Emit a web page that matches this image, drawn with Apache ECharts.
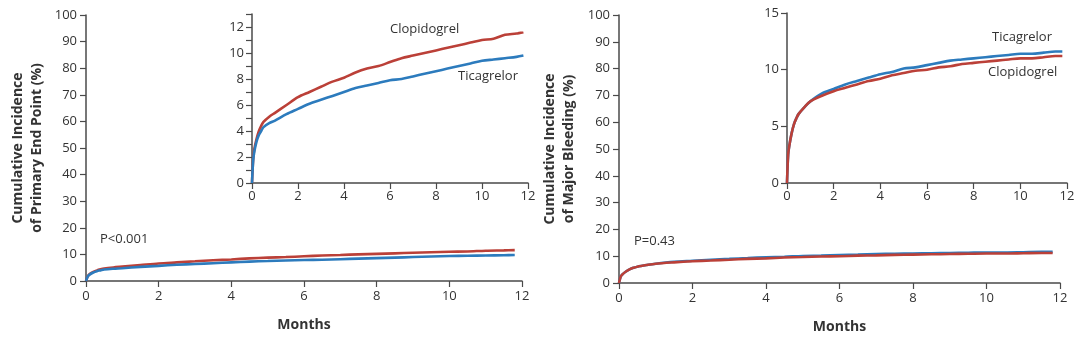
<!DOCTYPE html>
<html>
<head>
<meta charset="utf-8">
<script src="https://cdn.jsdelivr.net/npm/echarts@6/dist/echarts.min.js"></script>
<style>
html,body{margin:0;padding:0;background:#fff;}
#c{width:1080px;height:341px;}
</style>
</head>
<body>
<div id="c"></div>
<script>
// ---- data ----
const months = [0, 0.05, 0.1, 0.2, 0.3, 0.4, 0.5, 0.75, 1, 1.5, 2, 2.5, 3, 3.5, 4, 4.5, 5, 5.5, 6, 6.5, 7, 7.5, 8, 8.5, 9, 9.5, 10, 10.5, 11, 11.5, 11.8];
const primaryClopidogrel = [0, 1.8, 2.6, 3.4, 4.0, 4.4, 4.7, 5.1, 5.4, 6.0, 6.6, 7.0, 7.4, 7.8, 8.1, 8.5, 8.8, 9.0, 9.3, 9.6, 9.8, 10.0, 10.2, 10.4, 10.6, 10.8, 11.0, 11.1, 11.4, 11.5, 11.6];
const primaryTicagrelor  = [0, 1.7, 2.4, 3.2, 3.7, 4.0, 4.3, 4.6, 4.8, 5.3, 5.7, 6.1, 6.4, 6.7, 7.0, 7.3, 7.5, 7.7, 7.9, 8.0, 8.2, 8.4, 8.6, 8.8, 9.0, 9.2, 9.4, 9.5, 9.6, 9.7, 9.8];
const bleedingTicagrelor  = [0, 2.5, 3.3, 4.4, 5.2, 5.7, 6.1, 6.7, 7.2, 7.9, 8.3, 8.7, 9.0, 9.3, 9.6, 9.8, 10.1, 10.2, 10.4, 10.6, 10.8, 10.9, 11.0, 11.1, 11.2, 11.3, 11.4, 11.4, 11.5, 11.6, 11.6];
const bleedingClopidogrel = [0, 2.5, 3.3, 4.4, 5.2, 5.7, 6.1, 6.7, 7.2, 7.7, 8.1, 8.4, 8.7, 9.0, 9.2, 9.5, 9.7, 9.9, 10.0, 10.2, 10.3, 10.5, 10.6, 10.7, 10.8, 10.9, 11.0, 11.0, 11.1, 11.2, 11.2];
const mainYTicks = [0, 10, 20, 30, 40, 50, 60, 70, 80, 90, 100];
const monthTicks = [0, 2, 4, 6, 8, 10, 12];
const primaryTitle = 'Cumulative Incidence\nof Primary End Point (%)';
const bleedingTitle = 'Cumulative Incidence\nof Major Bleeding (%)';
const pPrimary = 'P<0.001';
const pBleeding = 'P=0.43';

const RED = '#bb4038', BLUE = '#2c7bbd';
const AX = '#4a4a4a', TXT = '#333';
const FONT = '"Open Sans", "Noto Sans", sans-serif';

function pairs(ys){ return months.map((m,i)=>[m, ys[i]]); }

function xAxis(gi, main){
  return {
    type:'value', gridIndex:gi, min:0, max:12, interval:2,
    name: main ? 'Months' : '', nameLocation:'middle', nameGap:37, nameMoveOverlap:false,
    nameTextStyle:{fontFamily:FONT, fontWeight:'bold', fontSize:14, color:TXT},
    axisLine:{show:true, onZero:false, lineStyle:{color:AX, width:1.5}},
    axisTick:{show:true, inside:false, length:6, lineStyle:{color:AX, width:1.2}},
    axisLabel:{fontFamily:FONT, fontSize:13, color:TXT, margin: main ? 9 : 7},
    splitLine:{show:false}
  };
}
function yAxis(gi, opts){
  return Object.assign({
    type:'value', gridIndex:gi, min:0,
    nameLocation:'middle', nameRotate:90, nameGap:39, nameMoveOverlap:false,
    nameTextStyle:{fontFamily:FONT, fontWeight:'bold', fontSize:14, color:TXT, lineHeight:19, align:'center'},
    axisLine:{show:true, onZero:false, lineStyle:{color:AX, width:1.5}},
    axisTick:{show:true, inside:false, length:6, lineStyle:{color:AX, width:1.2}},
    axisLabel:{fontFamily:FONT, fontSize:13, color:TXT, margin:9},
    splitLine:{show:false}
  }, opts);
}
function line(xi, ys, color, z){
  return {type:'line', xAxisIndex:xi, yAxisIndex:xi, data:pairs(ys), showSymbol:false, smooth:0.3,
    lineStyle:{color:color, width:2.6}, itemStyle:{color:color}, z:z, animation:false};
}

const option = {
  backgroundColor:'#fff',
  animation:false,
  grid:[
    {left:86, top:15, width:436, height:266, containLabel:false, outerBoundsMode:'none'},
    {left:252, top:14, width:276, height:169, containLabel:false, outerBoundsMode:'none'},
    {left:619, top:15, width:441, height:268, containLabel:false, outerBoundsMode:'none'},
    {left:787, top:13, width:280, height:170, containLabel:false, outerBoundsMode:'none'}
  ],
  xAxis:[ xAxis(0,true), xAxis(1,false), xAxis(2,true), xAxis(3,false) ],
  yAxis:[
    yAxis(0,{max:100, interval:10, name:primaryTitle}),
    yAxis(1,{max:13, interval:1, axisLabel:{fontFamily:FONT, fontSize:13, color:TXT, margin:8,
      formatter:v=> (v%2===0 ? String(v) : '')}}),
    yAxis(2,{max:100, interval:10, name:bleedingTitle, nameGap:40}),
    yAxis(3,{max:15, interval:5, axisLabel:{fontFamily:FONT, fontSize:13, color:TXT, margin:8}})
  ],
  series:[
    line(0, primaryClopidogrel, RED, 2),
    line(0, primaryTicagrelor, BLUE, 3),
    line(1, primaryClopidogrel, RED, 2),
    line(1, primaryTicagrelor, BLUE, 3),
    line(2, bleedingTicagrelor, BLUE, 2),
    line(2, bleedingClopidogrel, RED, 3),
    line(3, bleedingTicagrelor, BLUE, 2),
    line(3, bleedingClopidogrel, RED, 3)
  ],
  graphic:[
    {type:'text', left:100, top:233, style:{text:pPrimary, font:'13px '+FONT, fill:TXT}},
    {type:'text', left:634, top:235, style:{text:pBleeding, font:'13px '+FONT, fill:TXT}},
    {type:'text', left:390, top:23, style:{text:'Clopidogrel', font:'13px '+FONT, fill:TXT}},
    {type:'text', left:458, top:70, style:{text:'Ticagrelor', font:'13px '+FONT, fill:TXT}},
    {type:'text', left:992, top:31, style:{text:'Ticagrelor', font:'13px '+FONT, fill:TXT}},
    {type:'text', left:988, top:66, style:{text:'Clopidogrel', font:'13px '+FONT, fill:TXT}}
  ]
};
const chart = echarts.init(document.getElementById('c'), null, {renderer:'canvas'});
chart.setOption(option);
</script>
</body>
</html>
